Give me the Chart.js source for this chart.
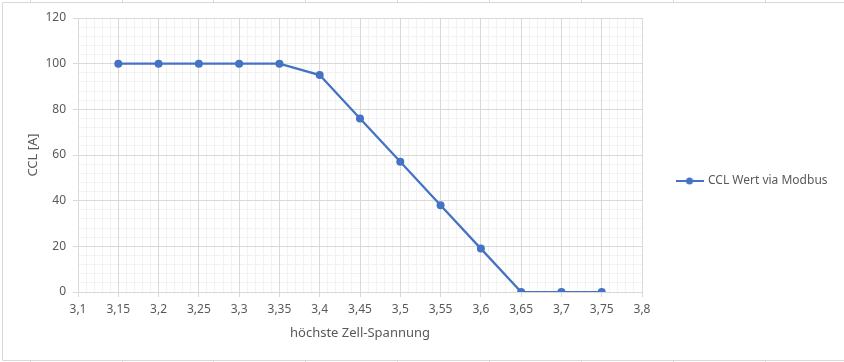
<!DOCTYPE html>
<html><head><meta charset="utf-8">
<script src="https://cdn.jsdelivr.net/npm/chart.js@4/dist/chart.umd.min.js"></script>
<style>html,body{margin:0;padding:0;background:#fff;overflow:hidden}#wrap{position:relative;width:844px;height:362px}</style>
</head><body><div id="wrap"><canvas id="c" width="844" height="362"></canvas></div>
<script>
const seriesName = 'CCL Wert via Modbus';
const voltages = [3.15, 3.2, 3.25, 3.3, 3.35, 3.4, 3.45, 3.5, 3.55, 3.6, 3.65, 3.7, 3.75];
const cclValues = [100, 100, 100, 100, 100, 95, 76, 57, 38, 19, 0, 0, 0];
const xAxisTitle = 'höchste Zell-Spannung';
const yAxisTitle = 'CCL [A]';
const xMin = 3.1, xMax = 3.8, xMajor = 0.05, xMinor = 0.01;
const yMin = 0, yMax = 120, yMajor = 20, yMinor = 4;

const FONT = '"Noto Sans", "Open Sans", sans-serif';
const TXT = '#595959';
const LINE = '#4472C4';
const MAJOR = '#d9d9d9';
const MINOR = '#f2f2f2';

// legend symbol: line with marker
const sym = document.createElement('canvas');
sym.width = 28; sym.height = 10;
(function(){
  const g = sym.getContext('2d');
  g.strokeStyle = LINE; g.lineWidth = 2;
  g.beginPath(); g.moveTo(0, 5); g.lineTo(28, 5); g.stroke();
  g.fillStyle = LINE; g.beginPath(); g.arc(14, 5, 3.5, 0, Math.PI * 2); g.fill();
})();

const canvas = document.getElementById('c');
const mctx = canvas.getContext('2d');
mctx.font = '12px ' + FONT;
const textW = mctx.measureText(seriesName).width;
const legPad = 35;
const symW = 25;
const plotRight = 641;
const legendW = legPad + symW + 6 + textW + 11;
const padRight = Math.max(0, 844 - plotRight - legendW);

const fmt = v => Number(v.toFixed(2)).toString().replace('.', ',');

const excelFrame = {
  id: 'excelFrame',
  beforeDraw(chart) {
    const c = chart.ctx;
    c.save();
    c.fillStyle = '#fff'; c.fillRect(0, 0, chart.width, chart.height);
    c.strokeStyle = '#d9d9d9'; c.lineWidth = 1;
    c.beginPath();
    c.moveTo(2.5, 360.5); c.lineTo(2.5, 2.5); c.lineTo(844, 2.5);
    c.moveTo(2.5, 360.5); c.lineTo(844, 360.5);
    const cols = [30, 122, 213, 305, 397, 489, 581, 673, 765];
    cols.forEach(x => { c.moveTo(x + 0.5, 0); c.lineTo(x + 0.5, 2); c.moveTo(x + 0.5, 361); c.lineTo(x + 0.5, 362); });
    c.stroke();
    c.restore();
  }
};

new Chart(canvas, {
  type: 'scatter',
  data: {
    datasets: [{
      label: seriesName,
      data: voltages.map((v, i) => ({x: v, y: cclValues[i]})),
      showLine: true,
      borderColor: LINE,
      backgroundColor: LINE,
      borderWidth: 2.25,
      pointRadius: 4,
      pointHoverRadius: 4,
      pointBorderWidth: 0,
      pointBackgroundColor: LINE
    }]
  },
  options: {
    responsive: false,
    animation: false,
    devicePixelRatio: 1,
    layout: {padding: {top: 18, bottom: 18, left: 0, right: padRight}},
    plugins: {
      tooltip: {enabled: false},
      legend: {
        position: 'right',
        maxWidth: 400,
        labels: {
          usePointStyle: true,
          pointStyle: sym,
          pointStyleWidth: symW,
          boxHeight: 12,
          padding: legPad,
          color: TXT,
          font: {family: FONT, size: 12}
        }
      }
    },
    scales: {
      x2: {
        type: 'linear', axis: 'x', position: 'bottom', min: xMin, max: xMax,
        ticks: {display: false, stepSize: xMinor, maxTicksLimit: 500, autoSkip: false},
        grid: {color: MINOR, drawTicks: false, z: -1},
        border: {display: false}
      },
      y2: {
        type: 'linear', axis: 'y', position: 'left', min: yMin, max: yMax,
        ticks: {display: false, stepSize: yMinor, maxTicksLimit: 500, autoSkip: false},
        grid: {color: MINOR, drawTicks: false, z: -1},
        border: {display: false}
      },
      x: {
        type: 'linear', position: 'bottom', min: xMin, max: xMax,
        afterFit: s => { s.height = 52; },
        ticks: {stepSize: xMajor, maxTicksLimit: 100, autoSkip: false, maxRotation: 0, padding: 5,
          color: TXT, font: {family: FONT, size: 12}, callback: v => fmt(v)},
        grid: {color: MAJOR, tickLength: 5},
        border: {color: MAJOR},
        title: {display: true, text: xAxisTitle, color: TXT, font: {family: FONT, size: 13}, padding: {top: 0, bottom: 3}}
      },
      y: {
        type: 'linear', position: 'left', min: yMin, max: yMax,
        afterFit: s => { s.width = 78; },
        ticks: {stepSize: yMajor, maxTicksLimit: 100, padding: 7,
          color: TXT, font: {family: FONT, size: 12}, callback: v => fmt(v)},
        grid: {color: MAJOR, tickLength: 5},
        border: {color: MAJOR},
        title: {display: true, text: yAxisTitle, color: TXT, font: {family: FONT, size: 13}, padding: {top: 25, bottom: 0}}
      }
    }
  },
  plugins: [excelFrame]
});
</script>
</body></html>
